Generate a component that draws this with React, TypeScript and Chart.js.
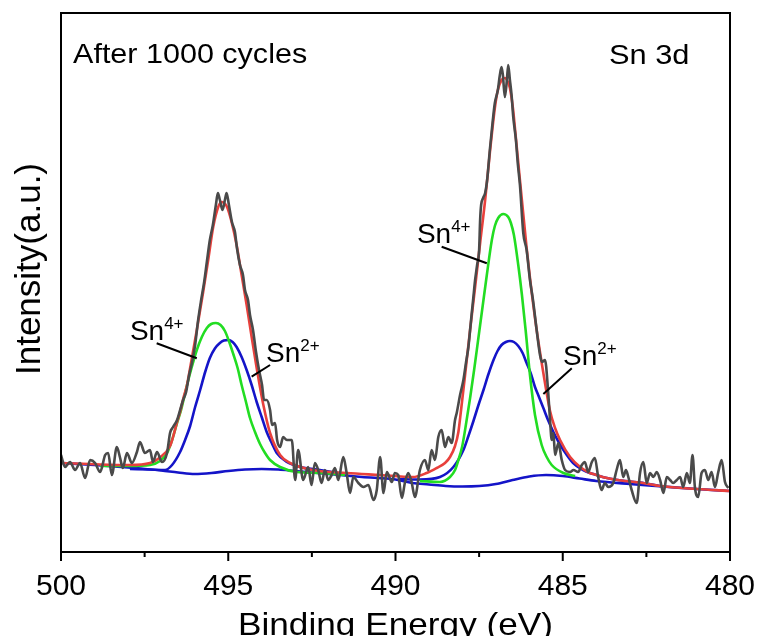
import React, { useEffect, useRef } from 'react';
import { Chart, registerables } from 'chart.js';

Chart.register(...registerables);

// Binding energy (eV), intensity (a.u.) pairs
const rawSpectrum: [number, number][] = [
  [500.0, 97], [499.88, 85], [499.73, 90], [499.58, 82], [499.43, 89], [499.28, 74], [499.13, 92], [498.98, 89], [498.83, 80], [498.68, 97],
  [498.59, 99], [498.48, 77], [498.33, 105], [498.24, 95], [498.15, 84], [498.03, 99], [497.88, 89], [497.73, 100], [497.64, 110], [497.49, 99],
  [497.34, 102], [497.25, 90], [497.13, 100], [496.98, 90], [496.83, 99], [496.74, 119], [496.65, 125], [496.53, 132], [496.44, 142], [496.35, 152],
  [496.26, 160], [496.17, 177], [496.08, 190], [495.99, 207], [495.9, 232], [495.81, 252], [495.72, 270], [495.64, 290], [495.55, 312], [495.46, 327],
  [495.37, 347], [495.31, 359], [495.25, 352], [495.17, 342], [495.1, 352], [495.05, 359], [494.98, 347], [494.89, 330], [494.8, 320], [494.74, 304],
  [494.65, 287], [494.56, 277], [494.5, 262], [494.41, 252], [494.35, 237], [494.26, 222], [494.17, 200], [494.08, 182], [493.99, 167], [493.93, 152],
  [493.85, 152], [493.75, 142], [493.69, 127], [493.6, 129], [493.54, 112], [493.45, 105], [493.36, 115], [493.25, 112], [493.1, 112], [493.0, 72],
  [492.91, 102], [492.76, 72], [492.61, 85], [492.51, 67], [492.41, 89], [492.31, 82], [492.21, 69], [492.11, 82], [492.01, 72], [491.91, 77],
  [491.81, 84], [491.71, 72], [491.56, 95], [491.46, 79], [491.36, 59], [491.26, 75], [491.11, 69], [490.96, 65], [490.81, 67], [490.66, 52],
  [490.56, 62], [490.46, 95], [490.36, 59], [490.26, 80], [490.11, 70], [490.02, 79], [489.92, 77], [489.81, 54], [489.72, 69], [489.62, 79],
  [489.52, 70], [489.42, 55], [489.27, 82], [489.12, 92], [489.02, 82], [488.92, 102], [488.82, 92], [488.72, 115], [488.62, 122], [488.52, 105],
  [488.42, 115], [488.32, 109], [488.22, 132], [488.17, 139], [488.07, 157], [487.97, 172], [487.89, 190], [487.82, 205], [487.77, 222], [487.72, 239],
  [487.68, 252], [487.62, 272], [487.56, 287], [487.5, 302], [487.47, 332], [487.44, 347], [487.38, 354], [487.32, 359], [487.26, 372], [487.18, 402],
  [487.09, 432], [487.03, 449], [486.94, 462], [486.88, 477], [486.83, 485], [486.79, 477], [486.73, 455], [486.67, 472], [486.63, 487], [486.58, 472],
  [486.53, 457], [486.48, 435], [486.4, 412], [486.34, 387], [486.28, 367], [486.18, 319], [486.08, 302], [485.98, 272], [485.89, 252], [485.78, 222],
  [485.68, 197], [485.62, 190], [485.53, 192], [485.44, 162], [485.38, 132], [485.33, 112], [485.28, 119], [485.23, 97], [485.13, 109], [485.03, 92],
  [484.93, 82], [484.78, 80], [484.68, 82], [484.54, 80], [484.43, 87], [484.34, 90], [484.24, 80], [484.13, 90], [484.04, 94], [483.94, 75],
  [483.84, 62], [483.74, 69], [483.64, 65], [483.49, 69], [483.39, 82], [483.29, 92], [483.19, 75], [483.11, 82], [483.04, 75], [482.94, 62],
  [482.79, 49], [482.69, 79], [482.59, 90], [482.49, 69], [482.39, 79], [482.29, 75], [482.19, 80], [482.09, 72], [481.99, 59], [481.89, 75],
  [481.79, 72], [481.7, 69], [481.59, 72], [481.49, 75], [481.4, 65], [481.29, 79], [481.2, 69], [481.12, 97], [481.05, 65], [480.95, 55],
  [480.85, 79], [480.75, 82], [480.65, 72], [480.55, 80], [480.45, 65], [480.35, 80], [480.25, 92], [480.15, 70], [480.05, 64],
];

const envelopeFit: [number, number][] = [
  [500, 89], [498.83, 87.5], [497.94, 87], [497.34, 89], [497.04, 94.5], [496.74, 106], [496.65, 115], [496.53, 130], [496.44, 140],
  [496.34, 154], [496.24, 166], [496.14, 184], [495.94, 222], [495.75, 260], [495.6, 292], [495.45, 325], [495.3, 345], [495.2, 350],
  [495.05, 346], [494.9, 330], [494.75, 307], [494.6, 277], [494.45, 247], [494.3, 215], [494.15, 184], [493.95, 147], [493.75, 119],
  [493.45, 97], [493.15, 89], [492.47, 82], [491.46, 79], [490.46, 77], [489.48, 75], [489.07, 79], [488.77, 84], [488.52, 89],
  [488.37, 95], [488.22, 106], [488.12, 120], [488.04, 142], [487.92, 177], [487.77, 222], [487.62, 265], [487.47, 309], [487.32, 352],
  [487.18, 399], [487.03, 444], [486.94, 462], [486.83, 472], [486.73, 474], [486.64, 470], [486.58, 464], [486.49, 444], [486.43, 424],
  [486.28, 372], [486.08, 304], [485.98, 274], [485.78, 222], [485.58, 179], [485.38, 141], [485.23, 124], [485.08, 112], [484.78, 95],
  [484.48, 85], [484.19, 79], [484.04, 77.5], [483.68, 74], [483.14, 71], [482.69, 69.5], [482.09, 66], [481, 63], [480, 61],
];

const sn4LeftFit: [number, number][] = [
  [498.83, 86], [497.94, 86], [497.34, 87], [497.04, 91], [496.83, 99], [496.68, 112], [496.54, 128], [496.41, 142], [496.24, 166],
  [496.09, 185], [495.94, 202], [495.79, 215], [495.64, 224], [495.51, 228], [495.37, 229], [495.23, 227], [495.1, 221], [494.98, 211],
  [494.85, 198], [494.72, 184], [494.6, 167], [494.47, 150], [494.35, 134], [494.2, 120], [494.05, 108], [493.9, 99], [493.75, 92],
  [493.45, 85], [492.95, 80], [492.26, 79], [491.51, 77],
];

const sn2LeftFit: [number, number][] = [
  [497.94, 83], [497.34, 82.5], [496.89, 82], [496.68, 87], [496.44, 100], [496.29, 112], [496.14, 126], [495.99, 145], [495.84, 162],
  [495.69, 180], [495.55, 194], [495.4, 203.5], [495.25, 209], [495.13, 211.5], [495.0, 212], [494.87, 210], [494.75, 205], [494.6, 195],
  [494.45, 182], [494.3, 167], [494.15, 150], [494.0, 135], [493.85, 120], [493.7, 109], [493.55, 99], [493.25, 90], [492.86, 85],
  [492.26, 82], [491.51, 78],
];

const sn4RightFit: [number, number][] = [
  [489.27, 71], [488.67, 70], [488.37, 75], [488.22, 82], [488.12, 92], [488.01, 105], [487.92, 122], [487.77, 154], [487.65, 182],
  [487.53, 212], [487.41, 242], [487.27, 277], [487.12, 312], [487.03, 326], [486.93, 334], [486.78, 338], [486.63, 335], [486.55, 329],
  [486.46, 317], [486.33, 287], [486.22, 257], [486.11, 222], [485.98, 177], [485.83, 137], [485.63, 107], [485.48, 95], [485.33, 87],
  [484.98, 79], [484.63, 76],
];

const sn2RightFit: [number, number][] = [
  [489.87, 73], [489.27, 72.5], [488.67, 75], [488.27, 85], [487.97, 102], [487.82, 116], [487.67, 131], [487.52, 147], [487.37, 162],
  [487.22, 178], [487.07, 192], [486.95, 201], [486.83, 207], [486.7, 210], [486.58, 211], [486.46, 210], [486.33, 206], [486.2, 199],
  [486.08, 189], [485.95, 178], [485.83, 165], [485.71, 155], [485.58, 144], [485.44, 132], [485.28, 120], [485.14, 111], [484.98, 102],
  [484.69, 89], [484.39, 82], [484.19, 79], [484.04, 77.5], [483.68, 74], [483.14, 71], [482.69, 69.5], [482.09, 66],
];

const backgroundFit: [number, number][] = [
  [500, 89], [499, 87], [498, 84.5], [497, 81.5], [496.5, 79.5], [496, 78], [495.5, 79], [495, 81], [494.5, 82.5], [494, 83],
  [493.5, 82.5], [493, 81], [492.5, 79.5], [492, 78], [491, 75], [490, 72.5], [489.5, 69], [489, 67.5], [488.5, 66], [488, 65.5],
  [487.5, 66], [487, 68], [486.5, 72], [486, 75.5], [485.5, 77], [485, 76], [484.5, 73.5], [484, 71], [483, 68], [482, 65.5],
  [481, 63], [480, 61],
];

const majorTicks = [500, 495, 490, 485, 480];
const minorTicks = [497.5, 492.5, 487.5, 482.5];

const xTitle = 'Binding Energy (eV)';
const yTitle = 'Intensity(a.u.)';

// text annotations anchored in data coordinates (left edge, baseline)
const textNotes = [
  { text: 'After 1000 cycles', sup: '', e: 499.64, i: 489, size: 28, stretch: 1.09 },
  { text: 'Sn 3d', sup: '', e: 483.62, i: 488, size: 28, stretch: 1.1 },
  { text: 'Sn', sup: '4+', e: 497.94, i: 212, size: 28, stretch: 1 },
  { text: 'Sn', sup: '2+', e: 493.87, i: 190, size: 28, stretch: 1 },
  { text: 'Sn', sup: '4+', e: 489.36, i: 309, size: 28, stretch: 1 },
  { text: 'Sn', sup: '2+', e: 484.99, i: 187, size: 28, stretch: 1 },
];

const pointerLines = [
  [497.14, 208.7, 495.94, 193.7],
  [493.75, 187, 494.3, 175.3],
  [488.62, 305.3, 487.27, 288.7],
  [484.73, 183.7, 485.58, 158],
];

const FONT = '"Liberation Sans", Arial, sans-serif';

const toPoints = (arr: [number, number][]) => arr.map(([x, y]) => ({ x, y }));

const decorPlugin = {
  id: 'decor',
  afterDraw(chart: any) {
    const { ctx, chartArea } = chart;
    const xs = chart.scales.x;
    const ys = chart.scales.y;
    ctx.save();
    // frame
    ctx.strokeStyle = '#000';
    ctx.lineWidth = 2;
    ctx.strokeRect(chartArea.left, chartArea.top, chartArea.right - chartArea.left, chartArea.bottom - chartArea.top);
    // ticks (outward, bottom axis only)
    ctx.beginPath();
    majorTicks.forEach((v) => {
      const px = xs.getPixelForValue(v);
      ctx.moveTo(px, chartArea.bottom);
      ctx.lineTo(px, chartArea.bottom + 9);
    });
    minorTicks.forEach((v) => {
      const px = xs.getPixelForValue(v);
      ctx.moveTo(px, chartArea.bottom);
      ctx.lineTo(px, chartArea.bottom + 5);
    });
    ctx.stroke();
    // pointer lines
    ctx.beginPath();
    pointerLines.forEach(([e1, i1, e2, i2]) => {
      ctx.moveTo(xs.getPixelForValue(e1), ys.getPixelForValue(i1));
      ctx.lineTo(xs.getPixelForValue(e2), ys.getPixelForValue(i2));
    });
    ctx.stroke();
    // annotation texts
    ctx.fillStyle = '#000';
    ctx.textBaseline = 'alphabetic';
    ctx.textAlign = 'left';
    textNotes.forEach((n) => {
      const px = xs.getPixelForValue(n.e);
      const py = ys.getPixelForValue(n.i);
      ctx.save();
      ctx.translate(px, py);
      ctx.scale(n.stretch, 1);
      ctx.font = `${n.size}px ${FONT}`;
      ctx.fillText(n.text, 0, 0);
      if (n.sup) {
        const w = ctx.measureText(n.text).width;
        ctx.font = `17px ${FONT}`;
        ctx.fillText(n.sup, w, -11);
      }
      ctx.restore();
    });
    // x axis title
    ctx.save();
    ctx.translate((chartArea.left + chartArea.right) / 2, chartArea.bottom + 83);
    ctx.scale(1.1, 1);
    ctx.font = `32px ${FONT}`;
    ctx.textAlign = 'center';
    ctx.fillText(xTitle, 0, 0);
    ctx.restore();
    // y axis title
    ctx.save();
    ctx.translate(chartArea.left - 21, chartArea.top + 256);
    ctx.rotate(-Math.PI / 2);
    ctx.font = `35px ${FONT}`;
    ctx.textAlign = 'center';
    ctx.fillText(yTitle, 0, 0);
    ctx.restore();
    ctx.restore();
  },
};

export default function App() {
  const ref = useRef<HTMLCanvasElement | null>(null);
  useEffect(() => {
    if (!ref.current) return;
    const line = (data: [number, number][], color: string, width: number) => ({
      data: toPoints(data),
      borderColor: color,
      borderWidth: width,
      pointRadius: 0,
      fill: false,
      cubicInterpolationMode: 'monotone',
    });
    const chart = new Chart(ref.current, {
      type: 'line',
      data: {
        datasets: [
          { ...line(rawSpectrum, '#4a4a4a', 2.6), label: 'Raw' },
          { ...line(envelopeFit, '#e8403c', 2.6), label: 'Fit' },
          { ...line(sn4LeftFit, '#22dd22', 2.6), label: 'Sn4+ 3d3/2' },
          { ...line(sn4RightFit, '#22dd22', 2.6), label: 'Sn4+ 3d5/2' },
          { ...line(sn2LeftFit, '#1414c8', 2.6), label: 'Sn2+ 3d3/2' },
          { ...line(sn2RightFit, '#1414c8', 2.6), label: 'Sn2+ 3d5/2' },
          { ...line(backgroundFit, '#1414c8', 2.6), label: 'Background' },
        ] as any,
      },
      options: {
        animation: false,
        responsive: false,
        maintainAspectRatio: false,
        layout: { padding: { left: 0, top: 5, right: 24, bottom: 0 } },
        plugins: { legend: { display: false }, tooltip: { enabled: false } },
        scales: {
          x: {
            type: 'linear',
            reverse: true,
            min: 480,
            max: 500,
            grid: { display: false, drawTicks: false },
            border: { display: false },
            ticks: { stepSize: 5, color: '#000', font: { family: FONT, size: 30 }, padding: 17, maxRotation: 0 },
            afterFit: (s: any) => {
              s.height = 92;
              s.paddingLeft = 0;
              s.paddingRight = 0;
            },
          },
          y: {
            type: 'linear',
            min: 0,
            max: 539,
            grid: { display: false, drawTicks: false },
            border: { display: false },
            ticks: { display: false },
            afterFit: (s: any) => {
              s.width = 53;
            },
          },
        },
      },
      plugins: [decorPlugin],
    });
    return () => chart.destroy();
  }, []);
  return (
    <div style={{ width: 746, height: 636, marginBottom: -8, overflow: 'hidden' }}>
      <canvas ref={ref} width={746} height={636} style={{ display: 'block', width: 746, height: 636 }} />
    </div>
  );
}
